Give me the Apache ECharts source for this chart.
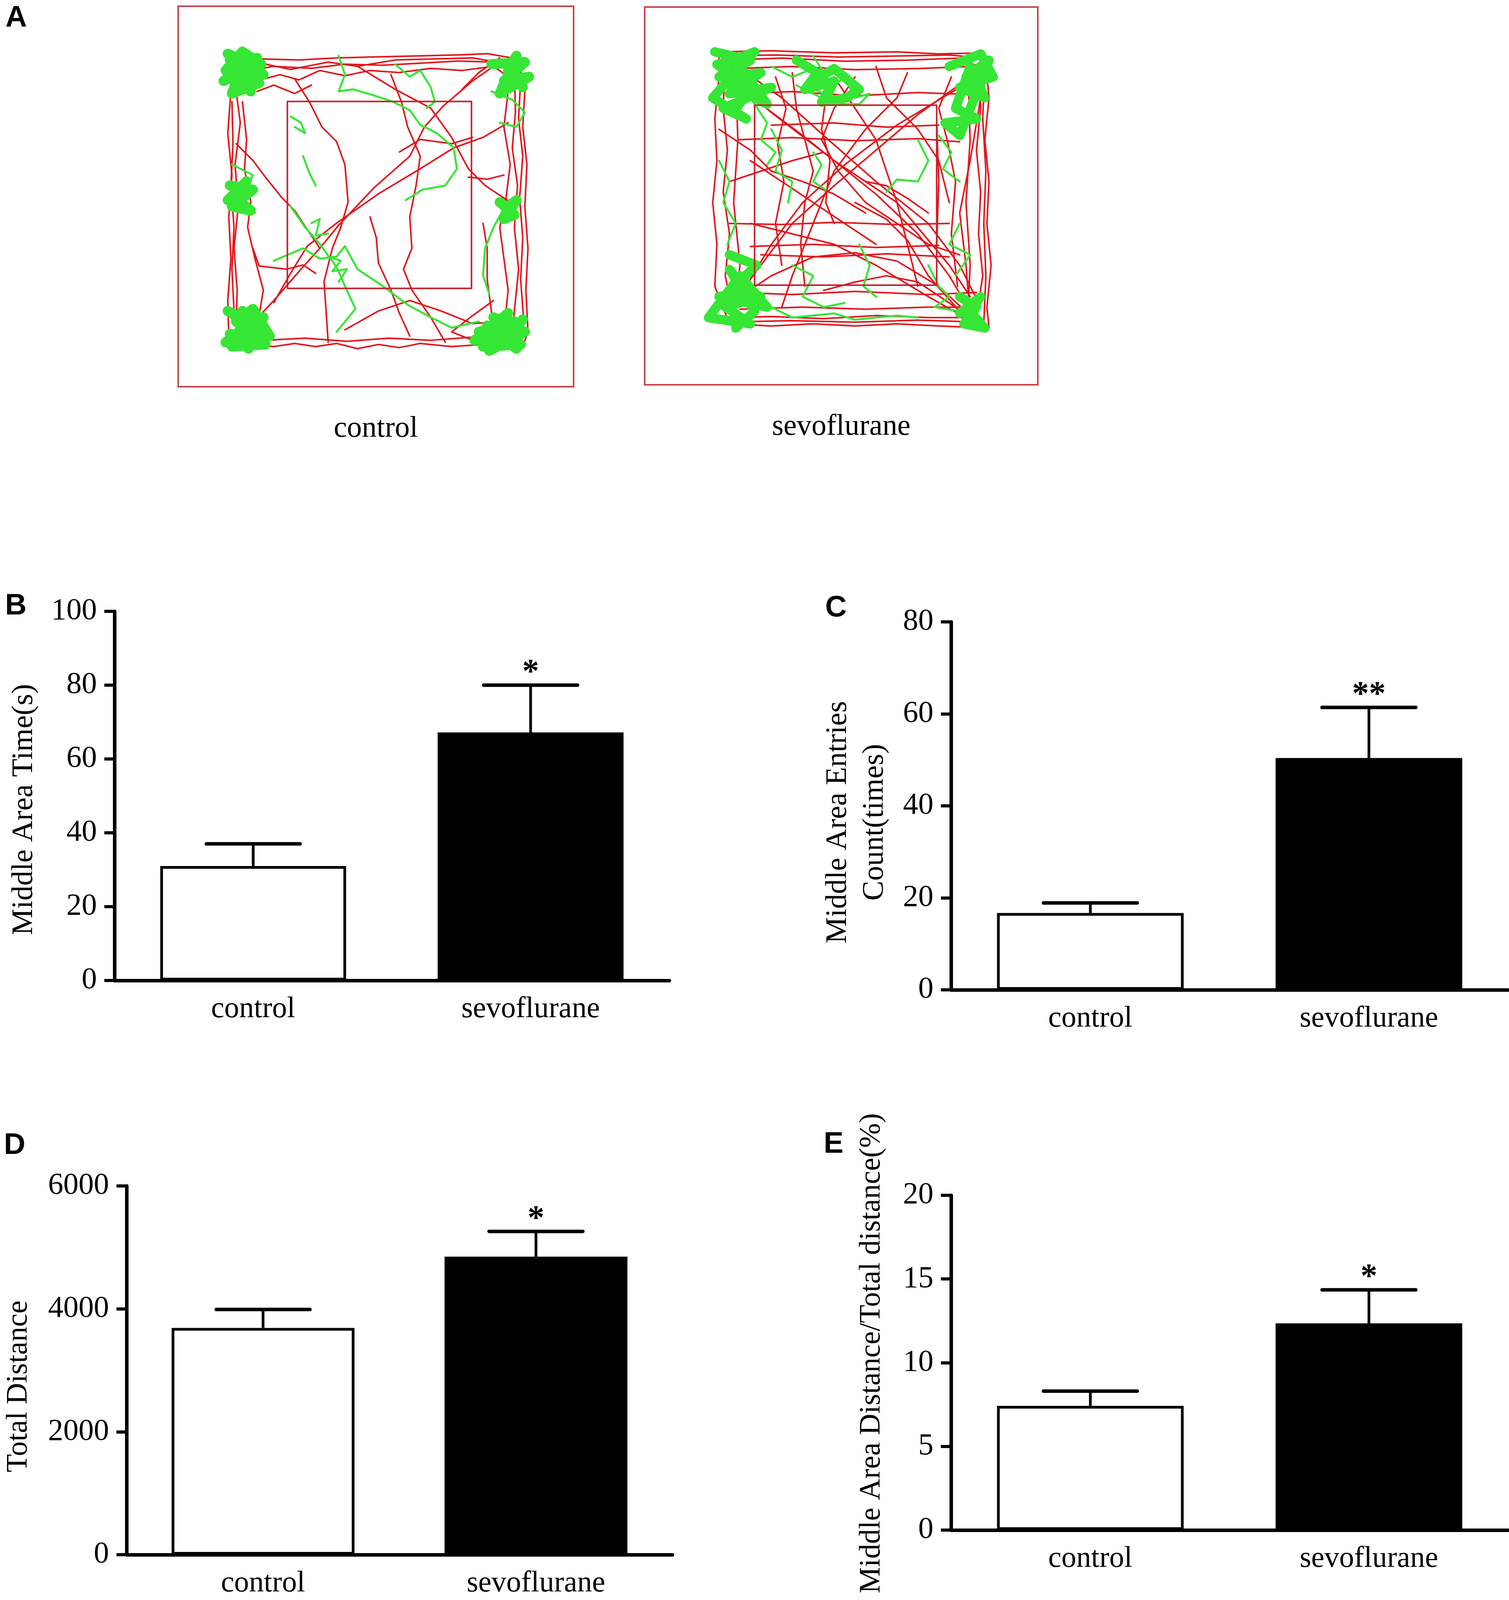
<!DOCTYPE html>
<html>
<head>
<meta charset="utf-8">
<title>Open field test</title>
<script src="https://cdn.jsdelivr.net/npm/echarts@6/dist/echarts.min.js"></script>
<style>
  html, body { margin: 0; padding: 0; background: #fff; }
  #chart { width: 3862px; height: 4129px; }
</style>
</head>
<body>
<div id="chart"></div>
<script>
// groups and bar values (mean, mean + SEM)
var groups = ['control', 'sevoflurane'];

var timeTicks = [0, 20, 40, 60, 80, 100];
var timeMean = [31.0, 67.2];
var timeUpper = [37.0, 80.0];
var timeSig = ['', '*'];

var entriesTicks = [0, 20, 40, 60, 80];
var entriesMean = [16.7, 50.4];
var entriesUpper = [18.9, 61.4];
var entriesSig = ['', '**'];

var distTicks = [0, 2000, 4000, 6000];
var distMean = [3690, 4850];
var distUpper = [3990, 5260];
var distSig = ['', '*'];

var ratioTicks = [0, 5, 10, 15, 20];
var ratioMean = [7.42, 12.35];
var ratioUpper = [8.3, 14.35];
var ratioSig = ['', '*'];

// open-field tracks, traced by hand in track-image units
var ctrlCentre = [[365, 298], [1245, 298], [1245, 1192], [365, 1192], [365, 298]];
var ctrlRed = [
  [[95,110],[250,95],[420,100],[600,90],[800,85],[1000,80],[1200,75],[1320,70],[1470,95],[1500,250],[1490,420],[1510,600],[1500,800],[1515,1000],[1505,1200],[1515,1400],[1490,1470],[1300,1460],[1150,1470],[1000,1455],[900,1475],[800,1460],[700,1480],[600,1455],[500,1470],[400,1455],[300,1470],[150,1460],[85,1430],[80,1250],[95,1050],[85,850],[100,650],[80,450],[95,250],[95,110]],
  [[130,160],[300,130],[480,140],[640,120],[820,125],[1000,115],[1180,105],[1350,110],[1450,150],[1455,350],[1440,520],[1465,700],[1450,900],[1470,1100],[1450,1300],[1440,1420],[1250,1425],[1050,1440],[850,1430],[650,1445],[450,1430],[250,1440],[120,1400],[125,1200],[110,1000],[130,800],[115,600],[140,400],[120,250],[130,160]],
  [[180,210],[330,170],[420,195],[520,150],[640,175],[760,150],[900,160],[1050,140],[1200,150],[1350,130],[1420,180]],
  [[110,140],[260,120],[380,145],[560,110],[700,130],[880,100],[1060,95],[1250,90],[1480,130]],
  [[150,300],[170,480],[160,620],[190,780],[175,900],[210,1050],[250,1200],[230,1320],[300,1440]],
  [[1420,250],[1400,420],[1430,600],[1410,760],[1380,900],[1400,1050],[1420,1200],[1400,1400]],
  [[1480,200],[1470,380],[1490,560],[1475,760],[1490,950],[1480,1150],[1495,1350]],
  [[100,300],[105,500],[95,700],[110,900],[100,1100],[110,1300]],
  [[400,190],[470,300],[530,420],[600,490],[640,600],[655,780],[620,900],[580,1000],[540,1160],[550,1300],[560,1450]],
  [[120,500],[200,580],[260,660],[340,760],[400,820],[460,910],[520,1000]],
  [[300,1260],[380,1120],[460,990],[600,880],[800,740],[1000,620],[1160,520],[1300,470],[1420,400]],
  [[160,1400],[300,1250],[430,1100],[520,1000],[610,890],[780,710],[950,560],[1020,420],[1110,320],[1250,200],[1380,110]],
  [[860,170],[910,300],[940,420],[1000,560],[980,700],[950,850],[960,1000],[920,1100],[960,1200],[1050,1330],[1120,1450]],
  [[700,130],[880,240],[1050,330],[1150,470],[1230,620],[1310,700],[1430,780]],
  [[200,1000],[230,1085],[360,1100],[440,1080],[500,1120]],
  [[640,1390],[800,1300],[950,1250],[1100,1300],[1250,1360],[1420,1350]],
  [[1300,880],[1320,1000],[1320,1150],[1340,1300],[1350,1430]],
  [[760,850],[790,950],[800,1070],[860,1200],[900,1310],[950,1420]],
  [[220,250],[300,220],[400,260],[480,220]],
  [[1200,240],[1280,160],[1380,90]],
  [[1230,660],[1320,670],[1400,650]],
  [[900,540],[1000,480],[1150,500],[1250,470]],
  [[1350,1250],[1240,1330],[1150,1400],[1250,1440]]
];
var ctrlGreen = [
  [[610,80],[640,170],[610,250],[680,240],[780,270],[870,300],[950,340],[1000,410],[1080,450],[1160,520],[1175,620],[1120,700],[1010,720],[930,770]],
  [[880,120],[950,180],[1000,150],[1050,230],[1070,300],[1030,330]],
  [[380,370],[430,400],[450,450],[400,420]],
  [[300,1060],[440,1000],[520,1050],[600,1040],[640,990],[700,1100],[820,1180],[940,1270],[1050,1330],[1150,1380],[1280,1350]],
  [[380,800],[450,900],[520,980],[600,1090],[640,1180],[690,1290],[600,1400]],
  [[1410,790],[1350,900],[1310,1000],[1300,1130],[1330,1220]],
  [[100,600],[200,650],[160,740],[110,800],[210,830]],
  [[1340,250],[1440,290],[1500,350],[1460,420],[1380,400]],
  [[440,560],[470,640],[500,700]],
  [[560,1040],[620,1060],[580,1110],[650,1100],[610,1160]],
  [[480,880],[520,860],[500,940],[560,930]]
];
var ctrlBlobs = [
  [[80,70],[210,130],[90,190],[230,210],[100,260],[170,90],[250,170],[110,110],[190,250],[70,150],[150,60],[240,120],[120,230],[200,180],[90,100],[160,150],[60,200],[220,90]],
  [[80,1300],[230,1380],[100,1470],[260,1460],[120,1350],[200,1290],[280,1420],[90,1410],[180,1480],[250,1330],[140,1420],[210,1440],[110,1320],[170,1370],[70,1450],[240,1400],[150,1300]],
  [[1280,1400],[1450,1350],[1300,1470],[1480,1460],[1350,1330],[1500,1400],[1330,1490],[1420,1310],[1260,1440],[1380,1420],[1460,1480],[1320,1370],[1440,1400],[1390,1460],[1490,1340]],
  [[1340,120],[1500,110],[1400,200],[1520,180],[1380,260],[1460,80],[1420,150],[1490,230]],
  [[90,700],[200,720],[100,800],[190,820],[120,760],[170,680],[80,770]],
  [[1380,780],[1450,840],[1400,860],[1460,770],[1420,800]]
];

var sevoCentre = [[320, 335], [1190, 335], [1190, 1195], [320, 1195], [320, 335]];
var sevoRed = [
  [[150,80],[400,75],[700,85],[1000,80],[1200,90],[1420,85],[1440,300],[1420,500],[1440,700],[1430,900],[1450,1100],[1430,1300],[1440,1400],[1200,1390],[1000,1380],[800,1390],[600,1380],[400,1390],[200,1380],[130,1200],[140,1000],[120,800],[140,600],[130,400],[150,200],[150,80]],
  [[180,120],[450,110],[750,125],[1050,120],[1300,110],[1390,150],[1400,350],[1380,550],[1400,750],[1390,950],[1410,1150],[1380,1350],[1150,1350],[900,1340],[650,1355],[400,1345],[220,1350],[180,1150],[200,950],[170,750],[190,550],[170,350],[180,120]],
  [[160,100],[420,95],[720,105],[1020,100],[1250,95],[1410,110]],
  [[220,160],[500,150],[800,165],[1100,160],[1350,150]],
  [[230,1370],[500,1365],[800,1372],[1100,1362],[1400,1372]],
  [[250,1310],[550,1300],[850,1310],[1150,1300],[1350,1300]],
  [[230,200],[240,500],[220,800],[250,1100],[230,1300]],
  [[1340,200],[1350,500],[1330,800],[1350,1100],[1340,1300]],
  [[1420,150],[1410,400],[1425,650],[1415,900],[1425,1150],[1415,1380]],
  [[240,500],[500,490],[800,505],[1100,495],[1300,510]],
  [[200,900],[450,905],[700,895],[1000,905],[1250,900]],
  [[300,1010],[600,1000],[900,1015],[1200,1005]],
  [[350,1050],[650,1060],[950,1045],[1250,1060]],
  [[250,1230],[500,1240],[800,1225],[1150,1240],[1380,1230]],
  [[400,430],[700,420],[950,440],[1200,430]],
  [[260,280],[500,270],[800,290],[1100,275],[1380,285]],
  [[180,180],[400,370],[700,600],[900,760],[1100,950],[1250,1150],[1380,1370]],
  [[250,160],[450,300],[650,480],[900,700],[1150,900],[1300,1100],[1400,1300]],
  [[350,330],[550,480],[700,600],[1000,800],[1250,1100],[1350,1250]],
  [[1350,200],[1100,380],[900,550],[700,720],[500,900],[350,1100],[200,1300]],
  [[1300,250],[1000,430],[750,620],[550,800],[400,1000],[280,1200]],
  [[1400,300],[1350,600],[1300,850],[1330,1100],[1350,1350]],
  [[1380,1380],[1150,1250],[900,1100],[700,1000],[500,950],[300,900]],
  [[1380,1370],[1200,1200],[1000,1080],[800,1040],[600,1060],[400,1150],[250,1250]],
  [[300,600],[450,700],[600,800],[750,900],[900,1000]],
  [[700,200],[800,350],[900,500],[950,650],[1000,800],[1050,1000],[1100,1200]],
  [[500,180],[520,350],[560,500],[600,650],[560,800],[540,1000],[560,1200]],
  [[900,150],[950,300],[1100,450],[1200,600],[1250,800]],
  [[660,300],[640,450],[680,600],[660,800],[700,900]],
  [[1050,180],[1000,300],[850,450],[700,650],[600,900],[500,1150],[450,1300]],
  [[850,700],[950,720],[1050,780],[1150,850]],
  [[200,700],[350,650],[500,600],[650,560]],
  [[1190,420],[1200,700],[1190,1000]],
  [[1360,1360],[1250,1280],[1100,1180],[950,1150],[800,1180],[650,1220]],
  [[1300,1320],[1150,1150],[1050,980],[950,880],[800,800]],
  [[420,200],[470,350],[430,520],[460,700],[420,900],[450,1100]],
  [[1260,200],[1200,350],[1240,500],[1280,700],[1260,950],[1290,1200]],
  [[800,200],[700,350],[640,500],[720,650],[850,800],[1000,900],[1150,1000],[1300,1050]],
  [[150,450],[300,550],[400,650],[550,700],[700,760],[850,850]]
];
var sevoGreen = [
  [[400,150],[500,200],[600,160],[680,260],[750,200],[800,300],[870,280],[820,330],[700,330],[600,280],[520,240]],
  [[600,100],[650,180],[560,230],[680,300],[720,220]],
  [[150,600],[200,700],[170,800],[230,900],[190,1000]],
  [[400,450],[450,550],[420,650],[500,700],[480,800]],
  [[1100,500],[1150,600],[1100,700],[1000,690],[950,750]],
  [[820,1000],[870,1100],[840,1200],[900,1250]],
  [[1150,1100],[1200,1200],[1250,1250],[1180,1300],[1300,1320]],
  [[500,1100],[600,1150],[550,1250],[650,1300],[750,1280]],
  [[1300,900],[1250,1000],[1350,1050],[1280,1150]],
  [[400,1300],[500,1350],[700,1330],[800,1360],[1000,1340],[1100,1350]],
  [[300,300],[380,420],[350,500],[420,560],[380,620]],
  [[1200,480],[1260,560],[1220,640],[1300,700]],
  [[600,560],[640,620],[600,700],[660,740]]
];
var sevoBlobs = [
  [[130,80],[300,120],[150,200],[350,180],[200,280],[400,250],[170,350],[280,400],[120,300],[250,150],[380,330],[180,230],[320,80],[220,120],[140,140],[300,260],[240,340]],
  [[520,120],[620,180],[560,260],[700,220],[640,320],[760,300],[820,260],[700,160],[600,220]],
  [[1250,150],[1400,90],[1460,200],[1300,250],[1420,300],[1350,150],[1280,350],[1380,400],[1230,420],[1300,480],[1440,120],[1330,200],[1400,250]],
  [[200,1050],[330,1100],[220,1200],[350,1250],[180,1300],[300,1380],[100,1350],[250,1150],[380,1300],[150,1250],[280,1220],[200,1120],[320,1320],[230,1400]],
  [[1300,1250],[1380,1300],[1320,1380],[1420,1400],[1350,1320],[1400,1250],[1300,1330]]
];

var serif = 'Liberation Serif';
var red = '#e3161c';
var green = '#35e635';

var chart = echarts.init(document.getElementById('chart'));

function arenaAxes(idx, xr, yr, label) {
  return {
    x: {
      gridIndex: idx, type: 'value', min: xr[0], max: xr[1],
      axisLine: { show: false }, axisTick: { show: false },
      axisLabel: { show: false }, splitLine: { show: false },
      name: label, nameLocation: 'middle', nameGap: 70,
      nameTextStyle: { fontFamily: serif, fontSize: 76, color: '#000' }
    },
    y: {
      gridIndex: idx, type: 'value', min: yr[0], max: yr[1], inverse: true,
      axisLine: { show: false }, axisTick: { show: false },
      axisLabel: { show: false }, splitLine: { show: false }
    }
  };
}

function trackSeries(idx, paths, color, width) {
  return paths.map(function (p) {
    return {
      type: 'line', xAxisIndex: idx, yAxisIndex: idx, data: p,
      symbol: 'none', silent: true, animation: false,
      lineStyle: { color: color, width: width, join: 'round', cap: 'round' }
    };
  });
}

function barAxes(idx, ticks, name, gap, pad) {
  return {
    x: {
      gridIndex: idx, type: 'category', data: groups,
      axisLine: { lineStyle: { color: '#000', width: 9 } },
      axisTick: { alignWithLabel: true, length: 26, lineStyle: { color: '#000', width: 8 } },
      axisLabel: { fontFamily: serif, fontSize: 76, color: '#000', margin: 36 },
      splitLine: { show: false }
    },
    y: {
      gridIndex: idx, type: 'value',
      min: ticks[0], max: ticks[ticks.length - 1], interval: ticks[1] - ticks[0],
      axisLine: { show: true, lineStyle: { color: '#000', width: 9 } },
      axisTick: { show: true, length: 26, lineStyle: { color: '#000', width: 8 } },
      axisLabel: { fontFamily: serif, fontSize: 78, color: '#000', margin: 45,
        formatter: function (v) { return String(v); } },
      splitLine: { show: false },
      name: name, nameLocation: 'middle', nameGap: gap,
      nameTextStyle: { fontFamily: serif, fontSize: 76, color: '#000', lineHeight: 94, padding: pad }
    }
  };
}

function errorRender(sig) {
  return function (params, api) {
    var c = api.value(0);
    var lo = api.coord([c, api.value(1)]);
    var hi = api.coord([c, api.value(2)]);
    var half = 120;
    var kids = [
      { type: 'line', shape: { x1: lo[0], y1: lo[1], x2: hi[0], y2: hi[1] },
        style: { stroke: '#000', lineWidth: 7 } },
      { type: 'line', shape: { x1: hi[0] - half, y1: hi[1], x2: hi[0] + half, y2: hi[1] },
        style: { stroke: '#000', lineWidth: 9, lineCap: 'round' } }
    ];
    var s = sig[params.dataIndex];
    if (s) {
      kids.push({ type: 'text', x: hi[0], y: hi[1] - 30,
        style: { text: s, fontFamily: serif, fontWeight: 'bold', fontSize: 86, fill: '#000', align: 'center', verticalAlign: 'middle' } });
    }
    return { type: 'group', children: kids };
  };
}

function barSeries(idx, mean, upper, sig) {
  return [
    {
      type: 'bar', xAxisIndex: idx, yAxisIndex: idx, barWidth: '67%', animation: false,
      data: mean.map(function (v, i) {
        return { value: v, itemStyle: { color: i === 0 ? '#fff' : '#000' } };
      }),
      itemStyle: { borderColor: '#000', borderWidth: 7 }
    },
    {
      type: 'custom', xAxisIndex: idx, yAxisIndex: idx, animation: false, z: 3,
      renderItem: errorRender(sig),
      encode: { x: 0, y: [1, 2] },
      data: mean.map(function (v, i) { return [i, v, upper[i]]; })
    }
  ];
}

var aCtrl = arenaAxes(0, [-157, 1733], [-157, 1662], 'control');
var aSevo = arenaAxes(1, [-205, 1673], [-134, 1671], 'sevoflurane');
var bB = barAxes(2, timeTicks, 'Middle Area Time(s)', 184, [0, 70, 0, 0]);
var bC = barAxes(3, entriesTicks, 'Middle Area Entries\nCount(times)', 148, [0, 84, 0, 0]);
var bD = barAxes(4, distTicks, 'Total Distance', 229, [0, 82, 0, 0]);
var bE = barAxes(5, ratioTicks, 'Middle Area Distance/Total distance(%)', 156, [0, 0, 0, 48]);

var arenaGrid = { show: true, borderColor: '#c8414a', borderWidth: 4, backgroundColor: 'transparent' };

var series = []
  .concat(trackSeries(0, ctrlRed, red, 4))
  .concat(trackSeries(0, ctrlGreen, green, 5))
  .concat(trackSeries(0, ctrlBlobs, green, 26))
  .concat(trackSeries(0, [ctrlCentre], '#c8202a', 4))
  .concat(trackSeries(1, sevoRed, red, 4))
  .concat(trackSeries(1, sevoGreen, green, 5))
  .concat(trackSeries(1, sevoBlobs, green, 24))
  .concat(trackSeries(1, [sevoCentre], '#c8202a', 4))
  .concat(barSeries(2, timeMean, timeUpper, timeSig))
  .concat(barSeries(3, entriesMean, entriesUpper, entriesSig))
  .concat(barSeries(4, distMean, distUpper, distSig))
  .concat(barSeries(5, ratioMean, ratioUpper, ratioSig));

function letter(t, x, y) {
  return { type: 'text', x: x, y: y,
    style: { text: t, fontFamily: 'Liberation Sans', fontWeight: 'bold', fontSize: 76, fill: '#000',
      align: 'left', verticalAlign: 'middle' } };
}

chart.setOption({
  backgroundColor: '#fff',
  animation: false,
  grid: [
    Object.assign({ left: 456, top: 16, width: 1012, height: 974 }, arenaGrid),
    Object.assign({ left: 1650, top: 18, width: 1006, height: 967 }, arenaGrid),
    { left: 293, top: 1565, width: 1420, height: 945 },
    { left: 2434, top: 1592, width: 1426, height: 942 },
    { left: 313, top: 3036, width: 1408, height: 944 },
    { left: 2434, top: 3060, width: 1426, height: 944 }
  ],
  xAxis: [aCtrl.x, aSevo.x, bB.x, bC.x, bD.x, bE.x],
  yAxis: [aCtrl.y, aSevo.y, bB.y, bC.y, bD.y, bE.y],
  series: series,
  graphic: [
    letter('A', 14, 47),
    letter('B', 13, 1552),
    letter('C', 2112, 1557),
    letter('D', 10, 2933),
    letter('E', 2108, 2930)
  ]
});
</script>
</body>
</html>
